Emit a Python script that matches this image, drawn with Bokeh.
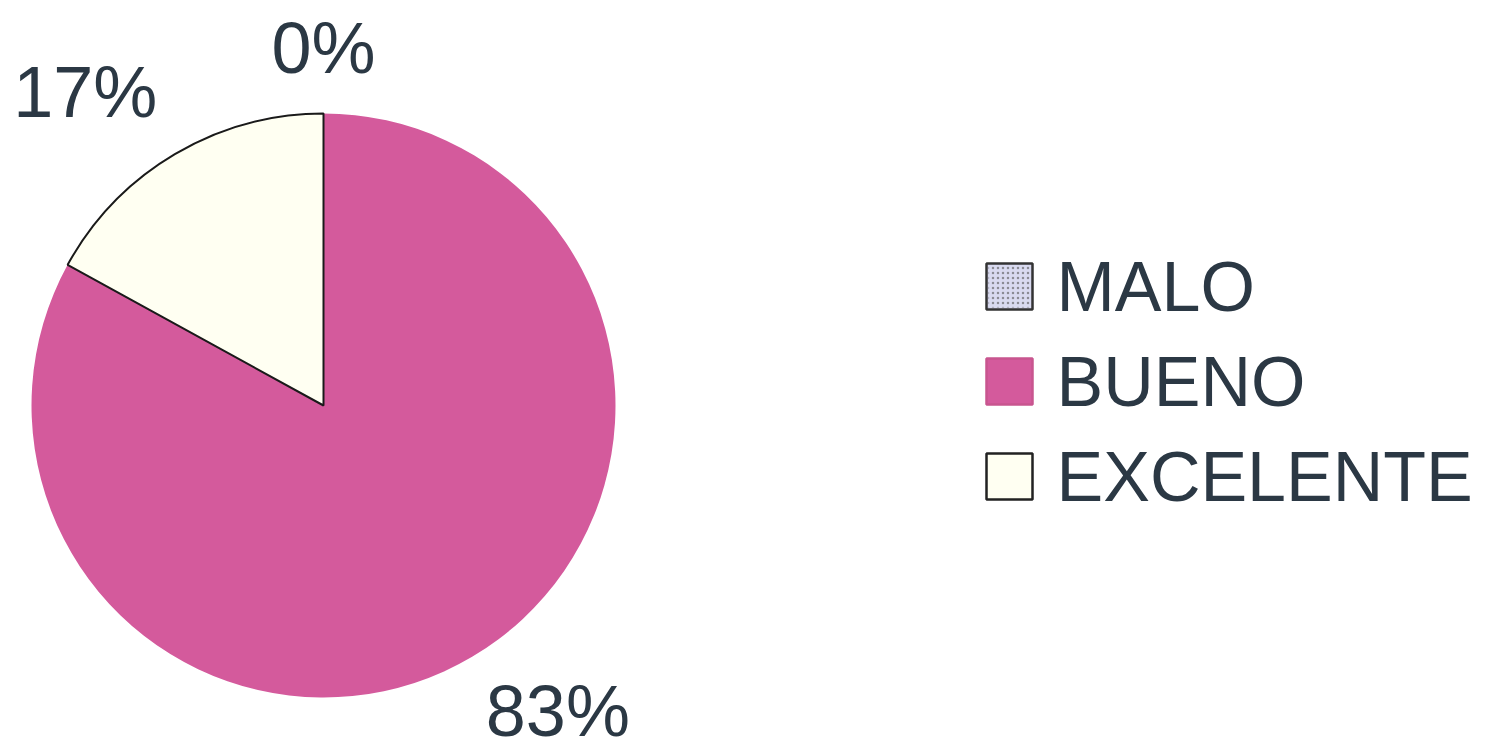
import math
from bokeh.plotting import figure
from bokeh.models import Range1d, ColumnDataSource
from bokeh.core.properties import value
from bokeh.embed import file_html
from bokeh.resources import INLINE

# ---- data ----
categories = ["MALO", "BUENO", "EXCELENTE"]
values = [0, 83, 17]

# ---- styles ----
colors = ["#D9DAF0", "#D45A9C", "#FFFFF2"]
legend_lines = ["#333333", "#C8558F", "#222222"]
text_color = "#2B3844"
FONT = "Liberation Sans"

W, H = 1498, 754
cx, cy, R = 323, H - 405, 292
label_dist = [358, 385, 394]
label_nudge_deg = [0, 6.9, 6.6]

p = figure(width=W, height=H, output_backend="svg", toolbar_location=None,
           x_range=Range1d(0, W), y_range=Range1d(0, H), min_border=0)
p.axis.visible = False
p.grid.visible = False
p.outline_line_color = None
p.background_fill_color = "white"

total = sum(values)
starts, ends, mids = [], [], []
a = math.pi / 2
for v in values:
    sweep = 2 * math.pi * v / total
    starts.append(a)
    ends.append(a - sweep)
    mids.append(a - sweep / 2)
    a -= sweep

# pie slices (clockwise from 12 o'clock)
for i, v in enumerate(values):
    if v == 0:
        continue
    is_white = categories[i] == "EXCELENTE"
    p.wedge(x=cx, y=cy, radius=R, start_angle=starts[i], end_angle=ends[i],
            direction="clock", fill_color=colors[i],
            line_color="#1a1a1a" if is_white else None,
            line_width=2 if is_white else 0)

# percent labels
angs = [m + math.radians(n) for m, n in zip(mids, label_nudge_deg)]
lx = [cx + d * math.cos(t) for d, t in zip(label_dist, angs)]
ly = [cy + d * math.sin(t) for d, t in zip(label_dist, angs)]
lsrc = ColumnDataSource(dict(x=lx, y=ly, t=[f"{v}%" for v in values]))
p.text(x="x", y="y", text="t", source=lsrc, text_align="center",
       text_baseline="middle", text_font=value(FONT), text_font_size="72px",
       text_color=text_color)

# legend
leg_x, leg_y0, leg_step, sq = 1009, H - 286, 95, 46
ys = [leg_y0 - i * leg_step for i in range(len(categories))]
p.rect(x=[leg_x] * 3, y=ys, width=sq, height=sq,
       fill_color=colors, line_color=legend_lines, line_width=2.5)
p.rect(x=[leg_x], y=[ys[0]], width=sq - 4, height=sq - 4, fill_alpha=0,
       line_alpha=0, hatch_pattern="dot", hatch_color="#555555",
       hatch_scale=5, hatch_alpha=0.6)
tsrc = ColumnDataSource(dict(x=[1056] * 3, y=ys, t=categories))
p.text(x="x", y="y", text="t", source=tsrc, text_align="left",
       text_baseline="middle", text_font=value(FONT), text_font_size="70px",
       text_color=text_color)

open("out.html", "w").write(file_html(p, INLINE))
